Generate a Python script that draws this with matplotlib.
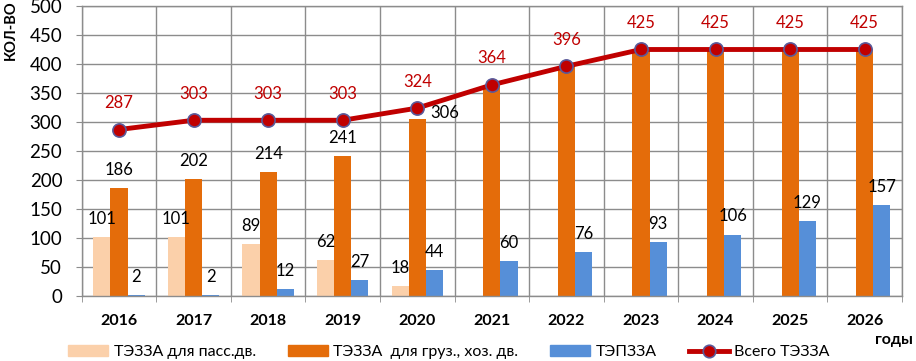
import matplotlib
matplotlib.use("Agg")
import matplotlib.pyplot as plt
import numpy as np
from matplotlib.lines import Line2D
from matplotlib.patches import Patch

plt.rcParams['font.family'] = ['Lato', 'Open Sans', 'DejaVu Sans']

years = ['2016', '2017', '2018', '2019', '2020', '2021', '2022', '2023', '2024', '2025', '2026']
pass_vals = [101, 101, 89, 62, 18, 0, 0, 0, 0, 0, 0]
cargo_vals = [186, 202, 214, 241, 306, 364, 396, 425, 425, 425, 425]
tep_vals = [2, 2, 12, 27, 44, 60, 76, 93, 106, 129, 157]
total_vals = [287, 303, 303, 303, 324, 364, 396, 425, 425, 425, 425]

labels = ['ТЭЗЗА для пасс.дв.', 'ТЭЗЗА  для груз., хоз. дв.', 'ТЭПЗЗА', 'Всего ТЭЗЗА']

c_pass = '#FBD0AA'
c_cargo = '#E46C0A'
c_tep = '#568FD8'
c_total = '#C00000'
grid_c = '#8C8C8C'

fig = plt.figure(figsize=(9.16, 3.61), dpi=100)
ax = fig.add_axes([0.0892, 0.180, 0.8955, 0.8034])

x = np.arange(len(years))
w = 0.23
ax.bar(x - w, pass_vals, w, color=c_pass, zorder=2)
ax.bar(x, cargo_vals, w, color=c_cargo, zorder=2)
ax.bar(x + w, tep_vals, w, color=c_tep, zorder=2)
ax.plot(x, total_vals, color=c_total, lw=3.5, marker='o', markersize=9.5,
        markerfacecolor=c_total, markeredgecolor='#5A5A9A', markeredgewidth=1.2, zorder=4)

ax.set_xlim(-0.5, len(years) - 0.5)
ax.set_ylim(0, 500)
ax.set_yticks(np.arange(0, 501, 50))
ax.tick_params(axis='y', labelsize=13.5, length=4, color=grid_c, pad=10)
ax.set_xticks(x)
ax.set_xticklabels(years, fontsize=11.5, fontweight='bold')
ax.tick_params(axis='x', length=0, pad=13)
ax.set_xticks(np.arange(-0.5, len(years), 1), minor=True)
ax.tick_params(axis='x', which='minor', length=4, color=grid_c)
ax.grid(axis='y', color=grid_c, lw=1, zorder=0)
ax.grid(axis='x', which='minor', color=grid_c, lw=1, zorder=0)
for s in ax.spines.values():
    s.set_color(grid_c)
    s.set_linewidth(1)

fs = 12
for i in range(len(years)):
    if pass_vals[i] > 0:
        ax.annotate(str(pass_vals[i]), (x[i] - w, pass_vals[i]), xytext=(0, 13),
                    textcoords='offset points', ha='center', va='center', fontsize=fs, zorder=5)
    if cargo_vals[i] != total_vals[i]:
        off = (20, 4) if i == 4 else (0, 13)
        ax.annotate(str(cargo_vals[i]), (x[i], cargo_vals[i]), xytext=off,
                    textcoords='offset points', ha='center', va='center', fontsize=fs, zorder=5)
    ax.annotate(str(tep_vals[i]), (x[i] + w, tep_vals[i]), xytext=(0, 13),
                textcoords='offset points', ha='center', va='center', fontsize=fs, zorder=5)
    ax.annotate(str(total_vals[i]), (x[i], total_vals[i]), xytext=(0, 19),
                textcoords='offset points', ha='center', va='center', fontsize=fs,
                color=c_total, zorder=5)

fig.text(0.004, 0.998, 'КОЛ-ВО', rotation=90, ha='left', va='top', fontsize=10.5, fontweight='bold')
fig.text(0.976, 0.058, 'годы', ha='center', va='center', fontsize=11.5, fontweight='bold')

handles = [Patch(color=c_pass), Patch(color=c_cargo), Patch(color=c_tep),
           Line2D([], [], color=c_total, lw=3.5, marker='o', markersize=9,
                  markerfacecolor=c_total, markeredgecolor='#5A5A9A', markeredgewidth=1.2)]
fig.legend(handles, labels, ncol=4, loc='center', bbox_to_anchor=(0.49, 0.024),
           frameon=False, fontsize=11.5, handlelength=2.5, handletextpad=0.35,
           columnspacing=2.0, handleheight=0.7, borderaxespad=0, borderpad=0)

fig.savefig('out.png', dpi=100)
